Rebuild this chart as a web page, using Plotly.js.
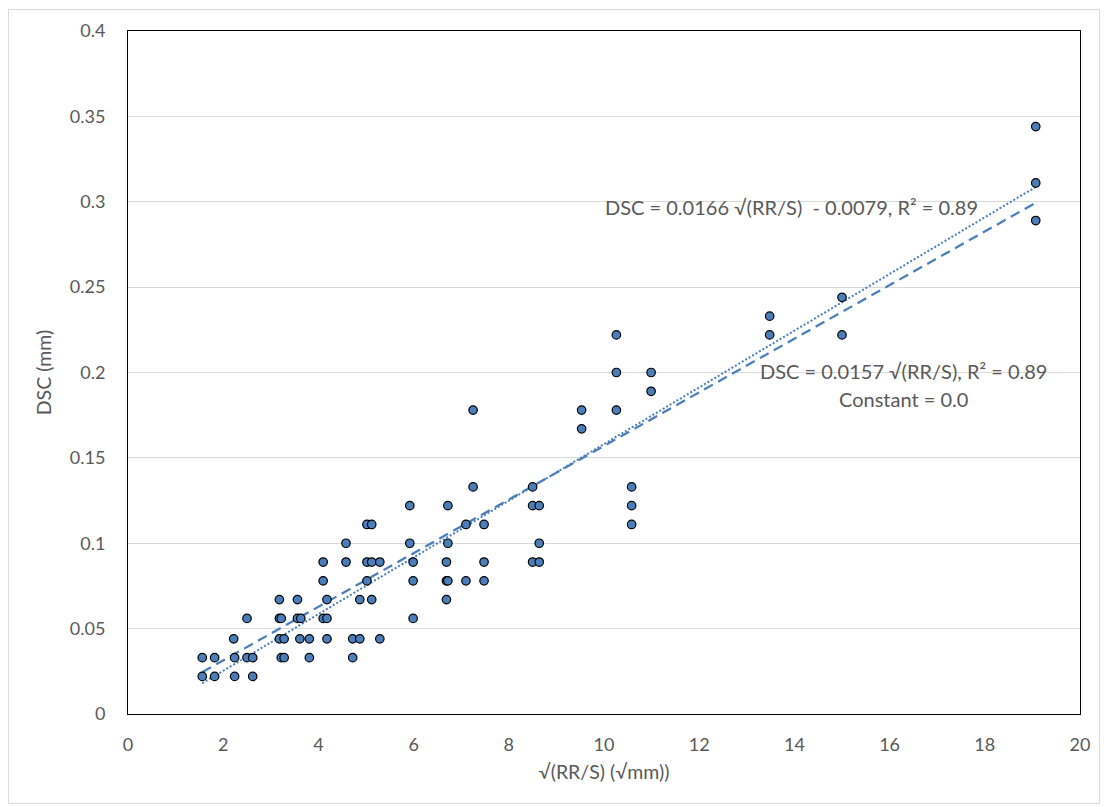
<!DOCTYPE html>
<html>
<head>
<meta charset="utf-8">
<script src="https://cdn.plot.ly/plotly-3.0.1.min.js"></script>
<style>
  html, body { margin: 0; padding: 0; background: #ffffff; }
  #frame { position: absolute; left: 8px; top: 9px; width: 1092px; height: 795px; border: 1px solid #d9d9d9; box-sizing: border-box; }
  #chart { position: absolute; left: 0; top: 0; width: 1104px; height: 807px; }
</style>
</head>
<body>
<div id="frame"></div>
<div id="chart"></div>
<script>
// sqrt(RR/S) values (√mm)
const xValues = [
  1.56, 1.56, 1.82, 1.82, 2.24, 2.24, 2.22, 2.50, 2.50, 2.62,
  2.62, 3.18, 3.18, 3.22, 3.18, 3.28, 3.22, 3.28, 3.56, 3.56,
  3.63, 3.61, 3.81, 3.81, 4.10, 4.10, 4.18, 4.10, 4.18, 4.18,
  4.58, 4.58, 4.87, 5.12, 4.72, 4.87, 4.72, 5.29, 5.02, 5.12,
  5.02, 5.12, 5.29, 5.02, 5.92, 5.92, 5.99, 5.99, 5.99, 6.72,
  6.72, 6.69, 6.69, 6.72, 6.69, 7.10, 7.10, 7.25, 7.25, 7.48,
  7.48, 7.48, 8.50, 8.50, 8.64, 8.64, 8.50, 8.64, 9.53, 9.53,
  10.26, 10.26, 10.26, 10.99, 10.99, 10.58, 10.58, 10.58, 13.48, 13.48,
  15.00, 15.00, 19.07, 19.07, 19.07
];
// DSC values (mm)
const dscValues = [
  0.022, 0.033, 0.033, 0.022, 0.033, 0.022, 0.044, 0.056, 0.033, 0.033,
  0.022, 0.067, 0.056, 0.056, 0.044, 0.044, 0.033, 0.033, 0.067, 0.056,
  0.056, 0.044, 0.044, 0.033, 0.089, 0.078, 0.067, 0.056, 0.056, 0.044,
  0.100, 0.089, 0.067, 0.067, 0.044, 0.044, 0.033, 0.044, 0.111, 0.111,
  0.089, 0.089, 0.089, 0.078, 0.122, 0.100, 0.089, 0.078, 0.056, 0.122,
  0.100, 0.089, 0.078, 0.078, 0.067, 0.111, 0.078, 0.133, 0.178, 0.111,
  0.089, 0.078, 0.133, 0.122, 0.122, 0.100, 0.089, 0.089, 0.178, 0.167,
  0.222, 0.200, 0.178, 0.200, 0.189, 0.133, 0.122, 0.111, 0.233, 0.222,
  0.244, 0.222, 0.344, 0.311, 0.289
];
// Fitted trend lines: [slope, intercept]
const fitWithConstant = [0.0166, -0.0079];
const fitThroughOrigin = [0.0157, 0.0];

const xTicks = [0, 2, 4, 6, 8, 10, 12, 14, 16, 18, 20];
const yTicks = [0, 0.05, 0.1, 0.15, 0.2, 0.25, 0.3, 0.35, 0.4];
const yTickText = ["0", "0.05", "0.1", "0.15", "0.2", "0.25", "0.3", "0.35", "0.4"];

const xTitle = "√(RR/S) (√mm))";
const yTitle = "DSC (mm)";
const eq1 = "DSC = 0.0166 √(RR/S)  - 0.0079, R² = 0.89";
const eq2a = "DSC = 0.0157 √(RR/S), R² = 0.89";
const eq2b = "Constant = 0.0";

const xMin = Math.min(...xValues), xMax = Math.max(...xValues);
const lineX = [xMin, xMax];
const line1Y = lineX.map(v => fitWithConstant[0] * v + fitWithConstant[1]);
const line2Y = lineX.map(v => fitThroughOrigin[0] * v + fitThroughOrigin[1]);

const fontFam = "Lato, 'Open Sans', sans-serif";
const grey = "#595959";
const blue = "#4a7ebb";

const traces = [
  {
    x: lineX, y: line2Y, type: "scatter", mode: "lines",
    line: { color: blue, width: 2.25, dash: "10px,6px" },
    hoverinfo: "skip", showlegend: false
  },
  {
    x: lineX, y: line1Y, type: "scatter", mode: "lines",
    line: { color: blue, width: 2, dash: "2px,2px" },
    hoverinfo: "skip", showlegend: false
  },
  {
    x: xValues, y: dscValues, type: "scatter", mode: "markers",
    marker: { color: blue, size: 8.5, line: { color: "#000000", width: 1.2 } },
    showlegend: false
  }
];

const layout = {
  width: 1104, height: 807,
  margin: { l: 127.5, r: 24, t: 31, b: 93 },
  paper_bgcolor: "rgba(0,0,0,0)",
  plot_bgcolor: "#ffffff",
  font: { family: fontFam, color: grey, size: 18 },
  showlegend: false,
  xaxis: {
    range: [0, 20], tickvals: xTicks, ticktext: xTicks.map(String),
    showgrid: false, zeroline: false,
    showline: true, linecolor: "#000000", linewidth: 1, mirror: true,
    ticks: "", ticklabelstandoff: 14,
    tickfont: { family: fontFam, color: grey, size: 18 },
    title: { text: xTitle, font: { family: fontFam, color: grey, size: 19.5 }, standoff: 11 }
  },
  yaxis: {
    range: [0, 0.4], tickvals: yTicks, ticktext: yTickText,
    showgrid: true, gridcolor: "#d9d9d9", gridwidth: 1, zeroline: false,
    showline: true, linecolor: "#000000", linewidth: 1, mirror: true,
    ticks: "", ticklabelstandoff: 18,
    tickfont: { family: fontFam, color: grey, size: 18 },
    title: { text: yTitle, font: { family: fontFam, color: grey, size: 19.5 }, standoff: 12 }
  },
  annotations: [
    { x: 13.94, y: 0.2969, xref: "x", yref: "y", text: eq1, showarrow: false,
      font: { family: fontFam, color: grey, size: 20 }, xanchor: "center", yanchor: "middle" },
    { x: 16.29, y: 0.2007, xref: "x", yref: "y", text: eq2a, showarrow: false,
      font: { family: fontFam, color: grey, size: 20 }, xanchor: "center", yanchor: "middle" },
    { x: 16.29, y: 0.1847, xref: "x", yref: "y", text: eq2b, showarrow: false,
      font: { family: fontFam, color: grey, size: 20 }, xanchor: "center", yanchor: "middle" }
  ]
};

Plotly.newPlot("chart", traces, layout, { displayModeBar: false, staticPlot: true });
</script>
</body>
</html>
